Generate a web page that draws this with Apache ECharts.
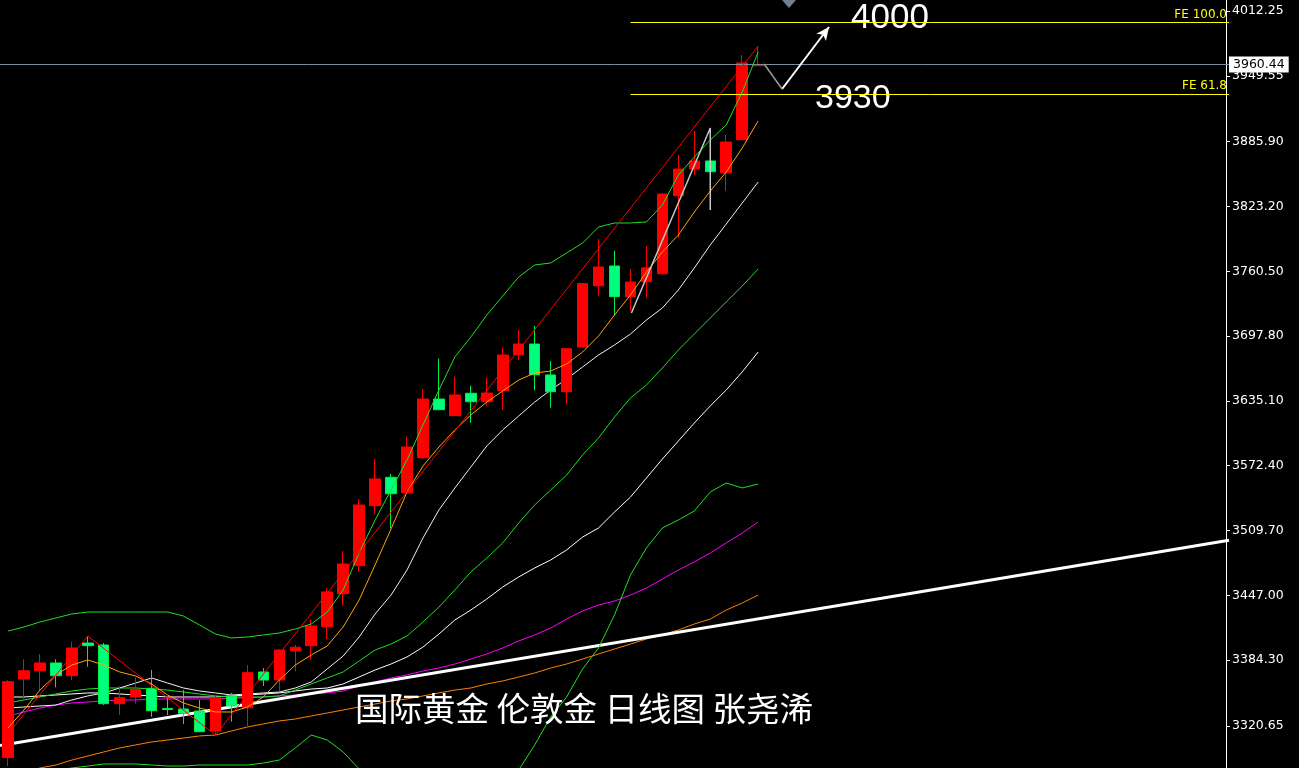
<!DOCTYPE html>
<html>
<head>
<meta charset="utf-8">
<title>国际黄金 伦敦金 日线图</title>
<script src="https://cdn.jsdelivr.net/npm/echarts@6/dist/echarts.min.js"></script>
<style>
  html, body { margin: 0; padding: 0; background: #000; }
  #chart { width: 1299px; height: 768px; }
</style>
</head>
<body>
<div id="chart"></div>
<script>
// daily candles: [open, close, low, high]
const candles = [
  [3290.0, 3363.5, 3281.9, 3365.0], [3366.1, 3374.1, 3346.8, 3385.2], [3374.1, 3381.6, 3354.8, 3390.3],
  [3381.6, 3369.3, 3358.1, 3385.2], [3369.3, 3396.1, 3365.1, 3401.9], [3400.9, 3398.3, 3378.0, 3407.7],
  [3399.0, 3342.2, 3340.9, 3401.0], [3342.2, 3348.0, 3331.3, 3359.3], [3348.7, 3356.1, 3342.2, 3367.7],
  [3357.1, 3335.4, 3329.6, 3374.8], [3337.6, 3336.6, 3331.3, 3347.7], [3337.1, 3332.9, 3322.6, 3355.5],
  [3335.1, 3315.1, 3314.5, 3345.8], [3315.8, 3348.0, 3311.9, 3349.7], [3349.7, 3340.0, 3324.8, 3352.6],
  [3338.3, 3372.2, 3320.6, 3379.6], [3372.9, 3365.1, 3359.3, 3376.7], [3365.1, 3394.1, 3354.5, 3395.0],
  [3393.5, 3396.8, 3373.4, 3399.0], [3398.3, 3417.4, 3384.5, 3423.2], [3416.7, 3450.3, 3404.8, 3454.1],
  [3448.6, 3477.3, 3437.0, 3489.9], [3475.7, 3534.4, 3469.9, 3540.2], [3533.7, 3559.6, 3525.7, 3578.9],
  [3561.2, 3545.3, 3511.9, 3564.4], [3546.3, 3590.5, 3545.0, 3600.5], [3580.2, 3636.9, 3578.9, 3646.6],
  [3636.9, 3626.6, 3626.0, 3675.9], [3620.8, 3640.8, 3620.5, 3658.5], [3642.5, 3634.3, 3614.0, 3649.8],
  [3634.3, 3642.7, 3630.5, 3657.5], [3645.0, 3679.5, 3626.3, 3686.6], [3679.8, 3690.1, 3674.7, 3703.7],
  [3690.1, 3660.4, 3645.6, 3707.6], [3660.2, 3644.0, 3628.5, 3673.7], [3644.0, 3685.6, 3632.1, 3686.0],
  [3687.2, 3748.5, 3686.5, 3749.0], [3746.5, 3764.6, 3736.9, 3791.7], [3765.6, 3735.9, 3717.5, 3780.4],
  [3735.9, 3750.1, 3722.1, 3762.7], [3750.4, 3763.7, 3734.9, 3784.9], [3758.1, 3835.2, 3757.5, 3836.0],
  [3833.6, 3859.4, 3793.0, 3873.0], [3859.4, 3867.2, 3853.6, 3896.5], [3867.2, 3856.8, 3820.0, 3869.0],
  [3855.8, 3885.5, 3838.4, 3892.3], [3887.8, 3962.0, 3887.5, 3969.7], [3959.3, 3960.44, 3959.0, 3978.4]
];

// indicator lines, one value per candle
const ma5 = [3318.7, 3336.1, 3355.4, 3370.0, 3379.6, 3384.5, 3379.6, 3372.9, 3369.0, 3361.3, 3350.6, 3342.9,
  3338.0, 3334.2, 3334.2, 3339.0, 3348.7, 3365.1, 3379.6, 3389.3, 3398.0, 3416.4, 3442.5, 3476.4,
  3511.2, 3547.0, 3572.1, 3590.5, 3607.0, 3621.5, 3634.0, 3644.7, 3655.3, 3662.1, 3664.0, 3670.8,
  3682.4, 3697.9, 3718.2, 3737.5, 3759.8, 3779.1, 3795.6, 3817.8, 3838.1, 3856.5, 3879.7, 3905.9];
const ma10 = [3338.0, 3339.0, 3340.0, 3340.9, 3345.8, 3349.7, 3352.6, 3357.4, 3362.2, 3367.1, 3362.2, 3357.4,
  3354.5, 3352.6, 3350.6, 3351.6, 3352.6, 3353.5, 3357.4, 3363.2, 3375.8, 3388.3, 3406.7, 3429.0,
  3447.3, 3471.5, 3502.5, 3529.6, 3550.9, 3571.2, 3591.5, 3607.0, 3620.5, 3634.0, 3645.6, 3656.3,
  3667.9, 3679.5, 3689.2, 3699.8, 3713.4, 3725.0, 3742.4, 3763.7, 3785.9, 3806.2, 3826.5, 3846.8];
const ma30 = [3348.7, 3348.7, 3349.7, 3350.6, 3351.6, 3352.6, 3352.6, 3351.6, 3350.6, 3349.7, 3348.7, 3348.7,
  3348.7, 3348.7, 3349.7, 3350.6, 3351.6, 3352.6, 3354.5, 3356.4, 3357.4, 3361.3, 3368.0, 3374.8,
  3380.6, 3387.4, 3397.0, 3409.6, 3423.2, 3432.8, 3443.5, 3455.1, 3464.8, 3473.5, 3481.2, 3490.9,
  3503.4, 3512.2, 3527.6, 3542.1, 3560.5, 3578.9, 3596.3, 3613.7, 3630.2, 3645.6, 3663.1, 3682.4];
const ma60 = [3330.3, 3334.2, 3338.0, 3340.9, 3342.9, 3343.9, 3344.8, 3345.8, 3345.8, 3346.8, 3346.8, 3346.8,
  3346.8, 3346.8, 3347.7, 3347.7, 3348.7, 3349.7, 3350.6, 3351.6, 3352.6, 3354.5, 3359.3, 3363.2,
  3367.1, 3370.0, 3373.8, 3376.7, 3380.6, 3385.4, 3390.3, 3396.1, 3402.9, 3408.7, 3415.4, 3424.1,
  3431.9, 3437.7, 3441.5, 3447.3, 3454.1, 3462.8, 3471.5, 3479.3, 3488.0, 3497.7, 3507.3, 3518.0];
const ma120 = [3273.2, 3276.1, 3280.0, 3282.9, 3287.7, 3291.6, 3295.5, 3299.4, 3302.3, 3305.2, 3307.1, 3309.0,
  3311.0, 3311.9, 3315.8, 3319.7, 3322.6, 3325.5, 3327.4, 3330.3, 3333.2, 3336.1, 3339.0, 3341.9,
  3344.8, 3346.8, 3349.7, 3352.6, 3355.4, 3357.4, 3361.3, 3364.2, 3368.0, 3371.9, 3376.7, 3380.6,
  3385.4, 3390.3, 3395.1, 3399.9, 3404.8, 3408.7, 3413.5, 3419.3, 3424.1, 3432.8, 3439.6, 3447.3];
const bollUpper = [3412.5, 3416.4, 3421.2, 3425.1, 3429.0, 3430.9, 3430.9, 3430.9, 3430.9, 3430.9, 3430.9, 3427.0,
  3418.3, 3409.6, 3405.8, 3406.7, 3408.7, 3410.6, 3414.5, 3419.3, 3430.9, 3452.2, 3488.0, 3519.9,
  3548.9, 3577.9, 3611.8, 3645.6, 3677.6, 3696.9, 3718.2, 3736.6, 3755.0, 3766.6, 3768.5, 3778.2,
  3787.8, 3803.3, 3807.2, 3807.2, 3808.2, 3824.6, 3853.6, 3871.0, 3887.5, 3902.0, 3933.9, 3972.6];
const bollMid = [3342.9, 3345.8, 3348.7, 3351.6, 3354.5, 3356.4, 3357.4, 3357.4, 3357.4, 3356.4, 3355.4, 3353.5,
  3351.6, 3349.7, 3348.7, 3348.7, 3348.7, 3349.7, 3355.4, 3361.3, 3367.1, 3372.9, 3383.5, 3394.1,
  3399.9, 3407.7, 3421.2, 3435.7, 3452.2, 3469.6, 3483.1, 3497.7, 3517.0, 3534.4, 3548.9, 3563.4,
  3582.8, 3599.2, 3619.5, 3637.9, 3650.5, 3666.9, 3684.3, 3699.8, 3715.3, 3730.8, 3746.2, 3762.7];
const bollLower = [3273.2, 3275.2, 3276.1, 3278.1, 3280.0, 3281.9, 3283.9, 3283.9, 3283.9, 3282.9, 3281.9, 3281.9,
  3282.9, 3282.9, 3282.9, 3282.9, 3284.8, 3287.7, 3299.4, 3311.9, 3307.1, 3295.5, 3279.0, 3263.6,
  3249.1, 3237.4, 3229.7, 3225.8, 3226.8, 3239.4, 3249.1, 3258.7, 3278.1, 3302.3, 3329.3, 3348.7,
  3375.8, 3396.1, 3428.0, 3466.7, 3492.8, 3512.2, 3519.9, 3528.6, 3547.0, 3555.7, 3550.9, 3554.7];

// drawn objects, [slot, price]
const zigzag = [[-0.31, 3307.1], [5, 3407.7], [13, 3311.9], [47, 3978.4]];
const waveSketch = [[39.06, 3720.1], [44, 3899.1], [44, 3819.8]];
const trendLine = [[-0.5, 3301.7], [76.5, 3500.4]];
const forecastDip = [[47.375, 3961.0], [48.5, 3936.8]];
const forecastUp = [[48.5, 3936.8], [51.44, 3996.8]];
const feLevels = [{ name: "FE 100.0", value: 4001.0 }, { name: "FE 61.8", value: 3931.7 }];
const feStart = 39;

const yTicks = [4012.25, 3949.55, 3885.90, 3823.20, 3760.50, 3697.80, 3635.10, 3572.40, 3509.70, 3447.00, 3384.30, 3320.65];
const lastPrice = 3960.44;
const slotCount = 77;
const slots = Array.from({ length: slotCount }, (_, i) => String(i + 1));

const chart = echarts.init(document.getElementById("chart"));

const line = (points, color, width = 1, z = 3) => ({
  type: "line",
  xAxisIndex: 1,
  data: points,
  symbol: "none",
  silent: true,
  z,
  lineStyle: { color, width },
});
const indexed = (values) => values.map((v, i) => [i, v]);

chart.setOption({
  backgroundColor: "#000000",
  animation: false,
  grid: { left: -3, top: 0, width: slotCount * 16, bottom: 0 },
  xAxis: [
    { type: "category", data: slots, boundaryGap: true, show: false },
    { type: "value", min: -0.5, max: slotCount - 0.5, show: false },
  ],
  yAxis: {
    type: "value",
    position: "right",
    offset: -3,
    min: 3280.0,
    max: 4022.9,
    splitLine: { show: false },
    axisLine: { show: true, onZero: false, lineStyle: { color: "#ffffff", width: 1 } },
    axisTick: { show: true, length: 4, customValues: yTicks, lineStyle: { color: "#ffffff" } },
    axisLabel: {
      customValues: yTicks,
      formatter: (v) => v.toFixed(2),
      color: "#ffffff",
      fontFamily: "DejaVu Sans",
      fontSize: 12.5,
      margin: 6,
    },
  },
  series: [
    line(indexed(ma120), "#ff8000"),
    line(indexed(ma60), "#ff00ff"),
    line(trendLine, "#ffffff", 3),
    line(indexed(ma30), "#ffffff"),
    line(indexed(bollLower), "#1fe01f"),
    line(indexed(bollMid), "#1fe01f"),
    line(indexed(ma10), "#f2f2f2"),
    {
      type: "candlestick",
      xAxisIndex: 0,
      data: candles,
      barWidth: 11,
      z: 4,
      itemStyle: {
        color: "#ff0000",
        color0: "#00ff7f",
        borderColor: "#ff0000",
        borderColor0: "#00f040",
        borderWidth: 1,
      },
      markLine: {
        symbol: "none",
        silent: true,
        data: [{ yAxis: lastPrice }],
        lineStyle: { color: "#7f8c99", type: "solid", width: 1 },
        label: {
          position: "end",
          formatter: lastPrice.toFixed(2),
          backgroundColor: "#ffffff",
          color: "#000000",
          fontFamily: "DejaVu Sans",
          fontSize: 12.5,
          padding: [2, 4, 1, 4],
          distance: 0,
        },
      },
    },
    line(indexed(ma5), "#ffa500", 1, 5),
    line(indexed(bollUpper), "#1fe01f", 1, 5),
    line(zigzag, "#ff0000", 1, 5),
    line(waveSketch, "#c8c8c8", 1.5, 5),
    {
      ...line(forecastDip, "#9a9a9a", 1.5, 5),
      markLine: {
        silent: true,
        symbol: "none",
        data: [
          ...feLevels.map((fe) => [
            {
              coord: [feStart, fe.value],
              lineStyle: { color: "#ffff00", width: 1, type: "solid" },
              label: {
                show: true,
                position: "insideEndTop",
                formatter: fe.name,
                color: "#ffff00",
                fontFamily: "DejaVu Sans",
                fontSize: 12,
                distance: 2,
              },
            },
            { coord: [slotCount - 0.5, fe.value] },
          ]),
          [
            {
              coord: forecastUp[0],
              symbol: "none",
              lineStyle: { color: "#ffffff", width: 2, type: "solid" },
              label: { show: false },
            },
            { coord: forecastUp[1], symbol: "arrow", symbolSize: [9, 13] },
          ],
        ],
      },
    },
  ],
  graphic: [
    {
      type: "polygon",
      shape: { points: [[782, 0], [796, 0], [789, 8]] },
      style: { fill: "#708090" },
    },
    {
      type: "text",
      x: 851,
      y: 18,
      style: { text: "4000", fill: "#ffffff", font: "35px 'Liberation Sans'", textVerticalAlign: "middle" },
    },
    {
      type: "text",
      x: 815,
      y: 99,
      style: { text: "3930", fill: "#ffffff", font: "34px 'Liberation Sans'", textVerticalAlign: "middle" },
    },
    {
      type: "text",
      x: 355,
      y: 708,
      z: 100,
      style: {
        text: "国际黄金 伦敦金 日线图 张尧浠",
        fill: "#ffffff",
        font: "33.5px 'Noto Sans CJK SC'",
        textVerticalAlign: "middle",
      },
    },
  ],
});
</script>
</body>
</html>
